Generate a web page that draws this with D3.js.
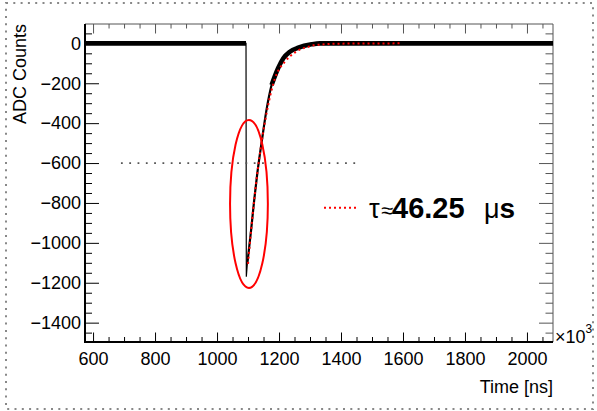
<!DOCTYPE html>
<html>
<head>
<meta charset="utf-8">
<script src="https://cdn.jsdelivr.net/npm/d3@7"></script>
<style>
body { margin: 0; background: #fff; }
text { font-family: "Liberation Sans", Arial, sans-serif; }
</style>
</head>
<body>
<div id="chart"></div>
<script>
// waveform (time in 10^3 ns, ADC counts)
const signalTime = [574, 1093.5, 1094.5, 1098, 1110, 1120, 1130, 1145, 1160, 1176, 1197, 1214, 1235, 1262, 1305, 1332, 2084];
const signalAdc  = [0, 0, -1170, -1100, -935, -785, -651, -484, -330, -209, -125, -75, -42, -22, -5, 0, 0];
// exponential fit, red dotted
const fitTime = [1100, 1110, 1120, 1130, 1145, 1165, 1187, 1219, 1252, 1268, 1289, 1311, 1338, 1374, 1450, 1590];
const fitAdc  = [-1105, -935, -785, -651, -484, -309, -175, -92, -45, -30, -20, -10, -6, -2, -1, 0];
const xTicks = [600, 800, 1000, 1200, 1400, 1600, 1800, 2000];
const yTicks = [-1400, -1200, -1000, -800, -600, -400, -200, 0];
const tauValue = '46.25';
// dotted reference line at -600 and the red ellipse around the peak
const refLine = [[690, -600], [1452, -600]];
const ellipseCenter = [1103, -805];
const ellipseRadius = [61, 421];

const W = 597, H = 411;
const padL = 85, padR = 553, padT = 24, padB = 342;

const svg = d3.select('#chart').append('svg').attr('width', W).attr('height', H);

// canvas border (dotted)
svg.append('rect').attr('x', 6).attr('y', 3).attr('width', 587).attr('height', 406)
    .attr('fill', 'none').attr('stroke', '#888').attr('stroke-width', 2).attr('stroke-dasharray', '2,5.3');

const x = d3.scaleLinear().domain([574, 2084]).range([padL, padR]);
const y = d3.scaleLinear().domain([-1497, 97]).range([padB, padT]);

const xMinor = d3.range(600, 2084, 50).filter(v => v % 200 !== 0);
const yMinor = d3.range(-1450, 97, 50).filter(v => v % 200 !== 0);

function axisGroup(axis, tx, ty, color) {
    const g = svg.append('g').attr('transform', `translate(${tx},${ty})`).call(axis);
    g.select('.domain').remove();
    g.selectAll('line').attr('stroke', color);
    g.selectAll('text').attr('font-size', 18).attr('fill', '#000');
    return g;
}

// bottom / left with labels
axisGroup(d3.axisBottom(x).tickValues(xTicks).tickSize(-9.5).tickPadding(10).tickFormat(d3.format('d')), 0, padB, '#000');
axisGroup(d3.axisBottom(x).tickValues(xMinor).tickSize(-5).tickFormat(''), 0, padB, '#000');
axisGroup(d3.axisLeft(y).tickValues(yTicks).tickSize(-14).tickPadding(4).tickFormat(d3.format('d')), padL, 0, '#000');
axisGroup(d3.axisLeft(y).tickValues(yMinor).tickSize(-7).tickFormat(''), padL, 0, '#000');
// top / right mirrored ticks
axisGroup(d3.axisTop(x).tickValues(xTicks).tickSize(-9.5).tickFormat(''), 0, padT, '#555');
axisGroup(d3.axisTop(x).tickValues(xMinor).tickSize(-4.5).tickFormat(''), 0, padT, '#555');
axisGroup(d3.axisRight(y).tickValues(yTicks).tickSize(-14).tickFormat(''), padR, 0, '#555');
axisGroup(d3.axisRight(y).tickValues(yMinor).tickSize(-7.5).tickFormat(''), padR, 0, '#555');

// frame
svg.append('line').attr('x1', padL).attr('x2', padR).attr('y1', padT).attr('y2', padT).attr('stroke', '#555');
svg.append('line').attr('x1', padR).attr('x2', padR).attr('y1', padT).attr('y2', padB).attr('stroke', '#555');
svg.append('line').attr('x1', padL).attr('x2', padL).attr('y1', padT).attr('y2', padB + 1).attr('stroke', '#000').attr('stroke-width', 2);
svg.append('line').attr('x1', padL - 1).attr('x2', padR).attr('y1', padB).attr('y2', padB).attr('stroke', '#000').attr('stroke-width', 2);

// axis titles
svg.append('text').attr('transform', 'translate(26,24) rotate(-90)').attr('text-anchor', 'end')
    .attr('font-size', 18).text('ADC Counts');
svg.append('text').attr('x', padR).attr('y', 393).attr('text-anchor', 'end').attr('font-size', 18).text('Time [ns]');
const mult = svg.append('text').attr('x', 555).attr('y', 343).attr('font-size', 18);
mult.append('tspan').text('×10');
mult.append('tspan').attr('font-size', 12).attr('dy', -10).text('3');

// signal
const signal = signalTime.map((t, i) => ({ t, v: signalAdc[i] }));
const fit = fitTime.map((t, i) => ({ t, v: fitAdc[i] }));
const line = d3.line().x(d => x(d.t)).y(d => y(d.v)).curve(d3.curveMonotoneX);
const sharp = d3.line().x(d => x(d.t)).y(d => y(d.v));

const plot = svg.append('g');
plot.append('path').attr('d', sharp(signal.slice(0, 4))).attr('fill', 'none').attr('stroke', '#000').attr('stroke-width', 1.2);
plot.append('path').attr('d', line(signal.slice(3))).attr('fill', 'none').attr('stroke', '#000').attr('stroke-width', 2.2);
plot.append('path').attr('d', sharp(signal.slice(0, 2))).attr('fill', 'none').attr('stroke', '#000').attr('stroke-width', 4.6);
plot.append('path').attr('d', line(signal.filter(d => d.t >= 1176))).attr('fill', 'none').attr('stroke', '#000').attr('stroke-width', 4.6);

// fit
plot.append('path').attr('d', line(fit)).attr('fill', 'none').attr('stroke', '#f00')
    .attr('stroke-width', 2).attr('stroke-dasharray', '2,3');

// reference line
plot.append('path').attr('d', sharp(refLine.map(d => ({ t: d[0], v: d[1] })))).attr('fill', 'none')
    .attr('stroke', '#555').attr('stroke-width', 1.8).attr('stroke-dasharray', '1.8,6.5');

// ellipse
plot.append('ellipse')
    .attr('cx', x(ellipseCenter[0])).attr('cy', y(ellipseCenter[1]))
    .attr('rx', x(ellipseCenter[0] + ellipseRadius[0]) - x(ellipseCenter[0]))
    .attr('ry', y(ellipseCenter[1]) - y(ellipseCenter[1] + ellipseRadius[1]))
    .attr('fill', 'none').attr('stroke', '#f00').attr('stroke-width', 2);

// legend
const legend = svg.append('g');
legend.append('line').attr('x1', 324).attr('x2', 357).attr('y1', 207.7).attr('y2', 207.7)
    .attr('stroke', '#f00').attr('stroke-width', 2).attr('stroke-dasharray', '2,3');
const lt = legend.append('text').attr('y', 218).attr('font-size', 27);
lt.append('tspan').attr('x', 369).text('τ');
lt.append('tspan').attr('x', 381).attr('font-size', 22).text('≈');
lt.append('tspan').attr('x', 392).attr('font-weight', 'bold').attr('font-size', 29).text(tauValue);
lt.append('tspan').attr('x', 484).text('μ');
lt.append('tspan').attr('font-weight', 'bold').attr('font-size', 28).text('s');
</script>
</body>
</html>
